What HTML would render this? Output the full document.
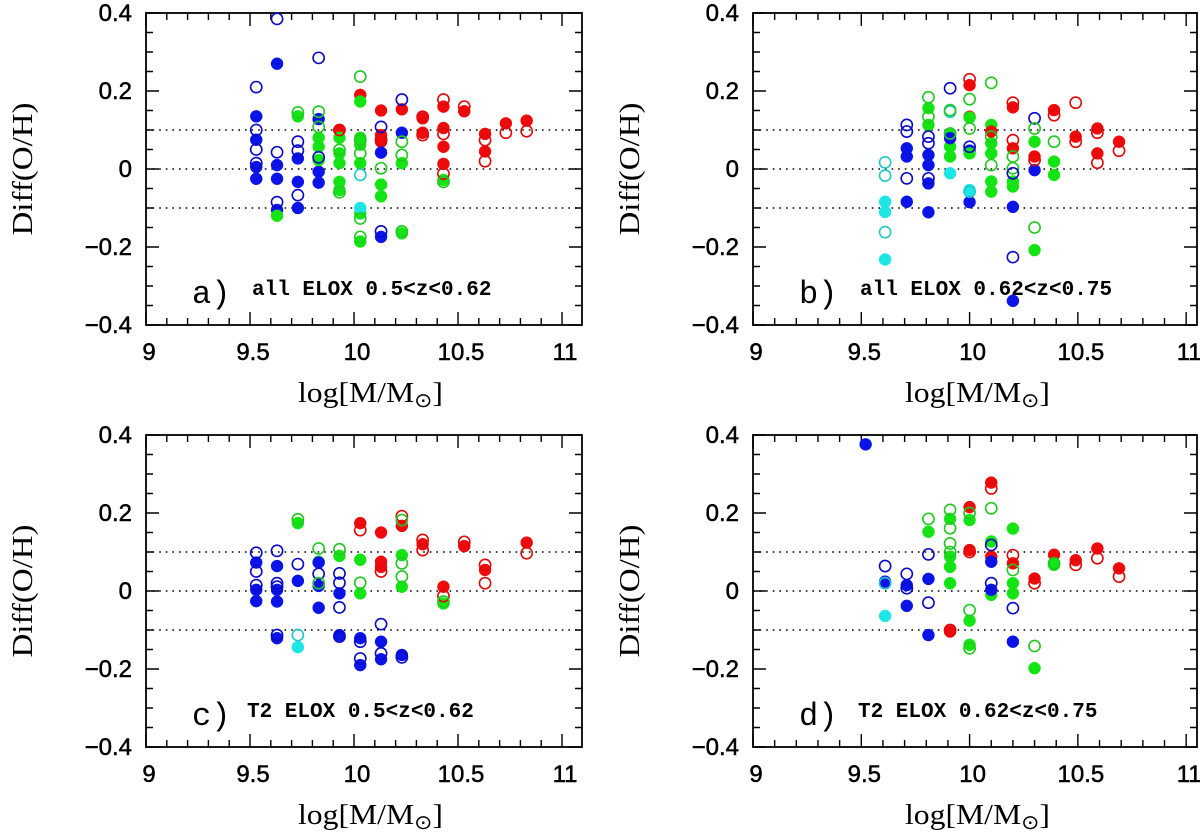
<!DOCTYPE html>
<html><head><meta charset="utf-8"><style>
html,body{margin:0;padding:0;background:#fff;}
svg{display:block;}
</style></head><body>
<svg id="fig" xmlns="http://www.w3.org/2000/svg" width="1200" height="834" viewBox="0 0 1200 834"></svg>
<script>
// [x, y, color, filled(1)/open(0)]  colors: b=blue g=green r=red c=cyan
const panelAPoints = [
[9.53,0.21,'b',0],[9.53,0.10,'b',0],[9.53,0.05,'b',0],[9.53,0.015,'b',0],[9.53,0.135,'b',1],[9.53,0.075,'b',1],[9.53,0.005,'b',1],[9.53,-0.025,'b',1],
[9.63,0.385,'b',0],[9.63,0.043,'b',0],[9.63,-0.085,'b',0],[9.63,0.27,'b',1],[9.63,0.01,'b',1],[9.63,-0.025,'b',1],[9.63,-0.105,'b',1],[9.63,-0.12,'g',1],
[9.73,0.145,'g',0],[9.73,0.135,'g',1],[9.73,0.07,'b',0],[9.73,0.047,'b',0],[9.73,-0.067,'b',0],[9.73,0.027,'b',1],[9.73,-0.033,'b',1],[9.73,-0.1,'b',1],
[9.83,0.285,'b',0],[9.83,0.03,'b',0],[9.83,0.128,'b',1],[9.83,-0.007,'b',1],[9.83,-0.035,'b',1],[9.83,0.147,'g',0],[9.83,0.108,'g',0],[9.83,0.08,'g',1],[9.83,0.057,'g',1],[9.83,0.023,'g',1],
[9.93,0.1,'r',1],[9.93,0.1,'r',0],[9.93,0.08,'g',1],[9.93,0.04,'g',1],[9.93,0.015,'g',1],[9.93,-0.033,'g',1],[9.93,-0.054,'g',1],[9.93,0.049,'g',0],[9.93,-0.06,'g',0],
[10.03,0.237,'g',0],[10.03,0.074,'g',0],[10.03,-0.127,'g',0],[10.03,-0.174,'g',0],[10.03,0.04,'g',0],[10.03,0.19,'r',1],[10.03,0.173,'g',1],[10.03,0.08,'g',1],[10.03,0.062,'g',1],[10.03,0.015,'g',1],[10.03,-0.114,'g',1],[10.03,-0.186,'g',1],[10.03,-0.015,'c',0],[10.03,-0.1,'c',1],
[10.13,0.15,'r',1],[10.13,0.087,'r',1],[10.13,0.07,'r',1],[10.13,0.075,'r',0],[10.13,0.108,'b',0],[10.13,-0.16,'b',0],[10.13,0.042,'b',1],[10.13,-0.174,'b',1],[10.13,0.002,'g',0],[10.13,-0.04,'g',1],[10.13,-0.07,'g',1],
[10.23,0.178,'b',0],[10.23,0.153,'r',1],[10.23,0.093,'b',1],[10.23,0.07,'g',0],[10.23,0.036,'g',0],[10.23,0.015,'g',1],[10.23,-0.165,'g',1],[10.23,-0.16,'g',0],
[10.33,0.13,'r',1],[10.33,0.134,'r',0],[10.33,0.087,'r',0],[10.33,0.093,'r',1],
[10.43,0.178,'r',0],[10.43,0.09,'r',0],[10.43,-0.012,'r',0],[10.43,0.16,'r',1],[10.43,0.105,'r',1],[10.43,0.057,'r',1],[10.43,0.013,'r',1],[10.43,-0.028,'g',1],[10.43,-0.033,'g',0],
[10.53,0.16,'r',0],[10.53,0.148,'r',1],
[10.63,0.09,'r',1],[10.63,0.045,'r',1],[10.63,0.074,'r',0],[10.63,0.02,'r',0],
[10.73,0.117,'r',1],[10.73,0.093,'r',0],[10.83,0.124,'r',1],[10.83,0.097,'r',0]
];
const panelBPoints = [
[9.61,0.017,'c',0],[9.61,-0.017,'c',0],[9.61,-0.162,'c',0],[9.61,-0.084,'c',1],[9.61,-0.11,'c',1],[9.61,-0.232,'c',1],
[9.71,0.113,'b',0],[9.71,0.096,'b',0],[9.71,-0.024,'b',0],[9.71,0.053,'b',1],[9.71,0.032,'b',1],[9.71,-0.084,'b',1],
[9.81,0.184,'g',0],[9.81,0.134,'g',0],[9.81,0.156,'g',1],[9.81,0.113,'g',1],[9.81,0.083,'b',0],[9.81,0.066,'b',0],[9.81,0.036,'b',1],[9.81,0.01,'b',1],[9.81,-0.037,'b',1],[9.81,-0.024,'b',0],[9.81,-0.111,'b',1],
[9.91,0.207,'b',0],[9.91,0.147,'c',0],[9.91,0.151,'g',0],[9.91,0.087,'g',1],[9.91,0.057,'g',1],[9.91,0.032,'g',1],[9.91,0.079,'b',1],[9.91,0.091,'g',0],[9.91,-0.011,'c',1],
[10.0,0.23,'r',0],[10.0,0.215,'r',1],[10.0,0.179,'g',0],[10.0,0.134,'r',1],[10.0,0.132,'g',1],[10.0,0.104,'g',0],[10.0,0.057,'b',0],[10.0,0.047,'b',1],[10.0,0.04,'g',1],[10.0,-0.054,'c',1],[10.0,-0.058,'c',0],[10.0,-0.085,'b',1],
[10.1,0.221,'g',0],[10.1,0.113,'g',1],[10.1,0.066,'g',1],[10.1,0.04,'g',1],[10.1,-0.032,'g',1],[10.1,-0.058,'g',1],[10.1,0.096,'r',1],[10.1,0.083,'g',0],[10.1,0.01,'g',0],
[10.2,0.17,'r',0],[10.2,0.074,'r',0],[10.2,0.158,'r',1],[10.2,0.053,'r',1],[10.2,0.032,'g',0],[10.2,0.002,'g',0],[10.2,-0.032,'g',1],[10.2,-0.045,'g',1],[10.2,-0.011,'b',0],[10.2,-0.226,'b',0],[10.2,-0.097,'b',1],[10.2,-0.338,'b',1],
[10.3,0.13,'b',0],[10.3,0.104,'g',0],[10.3,-0.15,'g',0],[10.3,0.07,'g',1],[10.3,-0.208,'g',1],[10.3,0.032,'r',1],[10.3,0.023,'r',0],[10.3,-0.003,'b',1],
[10.39,0.151,'r',1],[10.39,0.138,'r',0],[10.39,0.07,'g',0],[10.39,0.019,'g',1],[10.39,-0.015,'g',1],
[10.49,0.17,'r',0],[10.49,0.083,'r',1],[10.49,0.07,'r',0],
[10.59,0.104,'r',1],[10.59,0.04,'r',1],[10.59,0.093,'r',0],[10.59,0.016,'r',0],
[10.69,0.07,'r',1],[10.69,0.047,'r',0]
];
const panelCPoints = [
[9.53,0.098,'b',0],[9.53,0.05,'b',0],[9.53,0.015,'b',0],[9.53,0.073,'b',1],[9.53,0.003,'b',1],[9.53,-0.026,'b',1],
[9.63,0.103,'b',0],[9.63,0.02,'b',0],[9.63,0.064,'b',1],[9.63,0.003,'b',1],[9.63,-0.027,'b',1],[9.63,-0.121,'b',1],[9.63,0.011,'b',0],[9.63,-0.113,'b',0],
[9.73,0.184,'g',0],[9.73,0.174,'g',1],[9.73,0.069,'b',0],[9.73,0.026,'b',1],[9.73,-0.113,'c',0],[9.73,-0.144,'c',1],
[9.83,0.109,'g',0],[9.83,0.075,'g',1],[9.83,0.073,'b',1],[9.83,0.013,'b',1],[9.83,-0.043,'b',1],[9.83,0.044,'b',0],[9.83,0.02,'g',0],
[9.93,0.107,'g',0],[9.93,0.09,'g',1],[9.93,0.045,'b',0],[9.93,0.021,'b',0],[9.93,-0.042,'b',0],[9.93,-0.006,'b',1],[9.93,-0.113,'b',1],[9.93,-0.117,'b',0],
[10.03,0.174,'r',1],[10.03,0.156,'r',0],[10.03,0.08,'g',1],[10.03,0.021,'g',0],[10.03,-0.006,'g',1],[10.03,-0.121,'b',1],[10.03,-0.19,'b',1],[10.03,-0.13,'b',0],[10.03,-0.173,'b',0],
[10.13,0.15,'r',1],[10.13,0.075,'r',1],[10.13,0.062,'r',1],[10.13,0.05,'r',0],[10.13,-0.085,'b',0],[10.13,-0.13,'b',1],[10.13,-0.175,'b',1],[10.13,-0.16,'b',0],
[10.23,0.192,'r',0],[10.23,0.182,'g',0],[10.23,0.167,'r',1],[10.23,0.092,'g',1],[10.23,0.071,'g',0],[10.23,0.037,'g',0],[10.23,0.011,'g',1],[10.23,-0.164,'b',1],[10.23,-0.17,'b',0],
[10.33,0.131,'r',0],[10.33,0.105,'r',0],[10.33,0.12,'r',1],
[10.43,0.011,'r',1],[10.43,-0.013,'r',0],[10.43,-0.032,'g',1],[10.43,-0.027,'g',0],
[10.53,0.126,'r',0],[10.53,0.115,'r',1],
[10.63,0.067,'r',0],[10.63,0.02,'r',0],[10.63,0.054,'r',1],
[10.83,0.124,'r',1],[10.83,0.097,'r',0]
];
const panelDPoints = [
[9.52,0.376,'b',1],
[9.61,0.064,'b',0],[9.61,0.024,'b',1],[9.61,0.02,'c',0],[9.61,-0.064,'c',1],
[9.71,0.044,'b',0],[9.71,0.007,'b',0],[9.71,0.015,'b',1],[9.71,-0.038,'b',1],
[9.81,0.185,'g',0],[9.81,0.152,'g',1],[9.81,0.094,'b',0],[9.81,-0.03,'b',0],[9.81,0.031,'b',1],[9.81,-0.113,'b',1],
[9.91,0.208,'g',0],[9.91,0.161,'g',0],[9.91,0.122,'g',0],[9.91,0.1,'g',0],[9.91,0.185,'g',1],[9.91,0.088,'g',1],[9.91,0.062,'g',1],[9.91,0.02,'g',1],[9.91,-0.104,'r',1],[9.91,-0.1,'r',0],
[10.0,0.215,'r',1],[10.0,0.105,'r',1],[10.0,0.2,'g',0],[10.0,-0.049,'g',0],[10.0,0.182,'g',1],[10.0,-0.076,'g',1],[10.0,-0.138,'g',1],[10.0,-0.147,'g',0],[10.0,0.1,'r',0],
[10.1,0.278,'r',1],[10.1,0.263,'r',0],[10.1,0.212,'g',0],[10.1,0.127,'g',1],[10.1,-0.01,'g',1],[10.1,0.118,'b',0],[10.1,0.02,'b',0],[10.1,0.088,'r',1],[10.1,0.075,'b',1],[10.1,0.003,'b',1],
[10.2,0.16,'g',1],[10.2,0.02,'g',1],[10.2,-0.006,'g',1],[10.2,0.054,'g',0],[10.2,0.092,'r',0],[10.2,0.071,'r',1],[10.2,-0.044,'b',0],[10.2,-0.13,'b',1],
[10.3,0.032,'r',1],[10.3,0.02,'r',0],[10.3,-0.141,'g',0],[10.3,-0.198,'g',1],
[10.39,0.093,'r',1],[10.39,0.067,'g',1],[10.39,0.071,'g',0],
[10.49,0.079,'r',1],[10.49,0.067,'r',0],
[10.59,0.109,'r',1],[10.59,0.084,'r',0],
[10.69,0.058,'r',1],[10.69,0.037,'r',0]
];
const xTickLabels = ['9','9.5','10','10.5','11'];
const xTickValues = [9,9.5,10,10.5,11];
const yTickLabels = ['0.4','0.2','0','\u22120.2','\u22120.4'];
const yTickValues = [0.4,0.2,0,-0.2,-0.4];
const refLines = [0.1,0,-0.1];
const panelLabels = ['a)','b)','c)','d)'];
const panelTexts = ['all ELOX 0.5<z<0.62','all ELOX 0.62<z<0.75','T2 ELOX 0.5<z<0.62','T2 ELOX 0.62<z<0.75'];

const fillC = {b:'#0a14e6',g:'#14e414',r:'#ee0a0a',c:'#1ee6e6'};
const strokeC = {b:'#0a0ac8',g:'#22c822',r:'#e00808',c:'#22c8c8'};
const NS='http://www.w3.org/2000/svg';
const svg=document.getElementById('fig');
function mk(tag,attrs,parent){const e=document.createElementNS(NS,tag);for(const k in attrs)e.setAttribute(k,attrs[k]);(parent||svg).appendChild(e);return e;}

const frames=[
 {L:146,R:582,T:13,B:325,xmax:11.096,pts:panelAPoints,id:'a',lx:192,ly:303,tx:252,ty:295},
 {L:753,R:1197,T:13,B:325,xmax:11.05,pts:panelBPoints,id:'b',lx:799,ly:303,tx:860,ty:295},
 {L:146,R:582,T:435,B:747,xmax:11.096,pts:panelCPoints,id:'c',lx:192,ly:725,tx:247,ty:717},
 {L:753,R:1197,T:435,B:747,xmax:11.05,pts:panelDPoints,id:'d',lx:799,ly:725,tx:858,ty:717}
];
frames.forEach((f,i)=>{
 const g=mk('g',{});
 
 
 const sx=v=>f.L+(v-9)/(f.xmax-9)*(f.R-f.L);
 const sy=v=>f.T+(0.4-v)/0.8*(f.B-f.T);
 refLines.forEach(v=>{
  const l=mk('line',{x1:f.L,x2:f.R,y1:sy(v),y2:sy(v),stroke:'#000','stroke-width':1.6,'stroke-dasharray':'1.6 5'},g);
  
  
 });
 let tk='';
 for(let k=0;k<=20;k++){const v=9+k*0.1;const x=sx(v);if(x>f.R)break;const len=(k%5===0)?13:7;tk+=`M${x} ${f.B}v${-len}M${x} ${f.T}v${len}`;}
 for(let k=0;k<=16;k++){const v=-0.4+k*0.05;const y=sy(v);const len=(k%4===0)?13:7;tk+=`M${f.L} ${y}h${len}M${f.R} ${y}h${-len}`;}
 const tp=mk('path',{d:tk,stroke:'#000','stroke-width':1.4,fill:'none'},g);
 
 
 const fr=mk('rect',{x:f.L,y:f.T,width:f.R-f.L,height:f.B-f.T,fill:'none',stroke:'#000','stroke-width':1.8},g);
 
 
 [1,0].forEach(fl=>{
  f.pts.filter(p=>p[3]===fl).forEach(p=>{
   const c=mk('circle',{cx:sx(p[0]),cy:sy(p[1]),r:fl?6:5.6,fill:fl?fillC[p[2]]:'none',stroke:fl?fillC[p[2]]:strokeC[p[2]],'stroke-width':fl?0.5:1.6},g);
   
   
  });
 });
 xTickLabels.forEach((t,k)=>{
  const e=mk('text',{x:sx(xTickValues[k])+3,y:f.B+35,'text-anchor':'middle','font-family':'Liberation Sans, sans-serif','font-size':24,stroke:'#000','stroke-width':0.5},g);
  e.textContent=t;
  
  
 });
 yTickLabels.forEach((t,k)=>{
  const e=mk('text',{x:f.L-14,y:sy(yTickValues[k])+8,'text-anchor':'end','font-family':'Liberation Sans, sans-serif','font-size':24,stroke:'#000','stroke-width':0.5},g);
  e.textContent=t;
  
  
 });
 const yt=mk('text',{x:0,y:0,transform:`translate(${f.L-114},${(f.T+f.B)/2}) rotate(-90)`,'text-anchor':'middle','font-family':'Liberation Serif, serif','font-size':29,textLength:133,lengthAdjust:'spacingAndGlyphs'},g);
 yt.textContent='Diff(O/H)';
 
 
 const xt=mk('text',{x:f.L+152,y:f.B+77,'font-family':'Liberation Serif, serif','font-size':29,textLength:145,lengthAdjust:'spacingAndGlyphs'},g);
 xt.innerHTML='log[M/M<tspan font-size="20" dy="5">\u2299</tspan><tspan dy="-5">]</tspan>';
 
 
 const la=mk('text',{x:f.lx,y:f.ly,'font-family':'Liberation Mono, monospace','font-size':32},g);
 la.textContent=panelLabels[i];
 
 
 const ta=mk('text',{x:f.tx,y:f.ty,'font-family':'Liberation Mono, monospace','font-size':21,'font-weight':'bold'},g);
 ta.setAttribute('style','white-space:pre');
 ta.textContent=panelTexts[i];
 
 
});
</script>
</body></html>
